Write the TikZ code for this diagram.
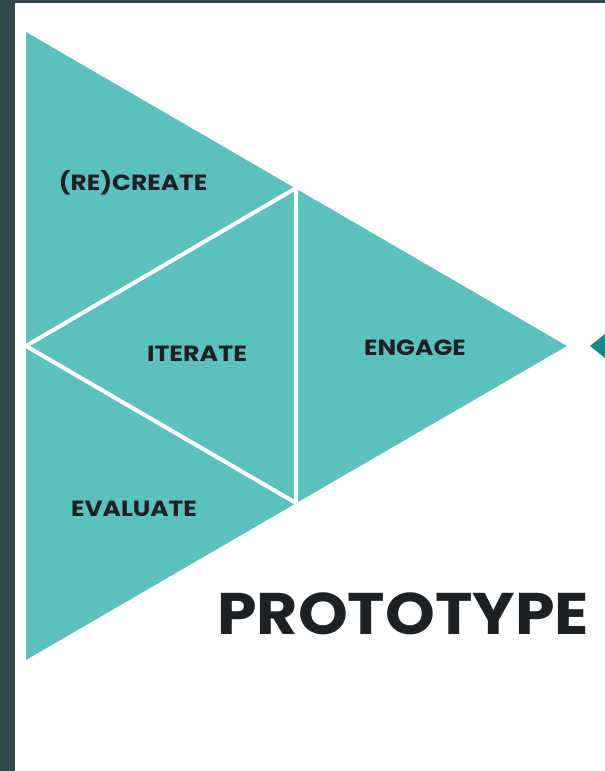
\documentclass[tikz,border=0pt]{standalone}
\usepackage{fontspec}
\setmainfont{Poppins}
\usepackage{tikz}

\definecolor{frame}{HTML}{34474F}
\definecolor{teal1}{HTML}{5CC1BD}
\definecolor{teal2}{HTML}{17888A}
\definecolor{ink}{HTML}{1E2124}

\newcommand{\wide}[2]{\scalebox{#1}[1]{#2}}

\tikzset{
    label/.style={text=ink, font=\fontsize{16.5}{16.5}\selectfont\bfseries, inner sep=0pt},
    cut/.style={draw=white, line width=3pt, line cap=round}
}

\begin{document}
\begin{tikzpicture}[x=0.75pt, y=-0.75pt]
            \useasboundingbox (0,0) rectangle (605,771);
            \fill[frame] (0,0) rectangle (605,771);
            \fill[white] (15,3) rectangle (605,771);

            % outer triangle and its corners
            \coordinate (TL) at (26,32);
            \coordinate (BL) at (26,660);
            \coordinate (R) at (567,346);
            \coordinate (ML) at (26,346);
            \coordinate (MT) at (296,188);
            \coordinate (MB) at (296,503);
            \fill[teal1] (TL) -- (R) -- (BL) -- cycle;

            \path[cut] (ML) edge (MT);
            \path[cut] (ML) edge (MB);
            \path[cut] (MT) edge (MB);

            % small arrow on the right
            \fill[teal2] (590,346) -- (605,334) -- (605,358) -- cycle;

            \node[label] (C) at (133,183) {\wide{1.13}{(RE)CREATE}};
            \node[label] (I) at (197,354) {\wide{1.15}{ITERATE}};
            \node[label] (G) at (415,348) {\wide{1.13}{ENGAGE}};
            \node[label] (V) at (134,509) {\wide{1.13}{EVALUATE}};

            \node[text=ink, font=\fontsize{44}{44}\selectfont\bfseries, inner sep=0pt] (P) at (403,614) {\wide{1.08}{PROTOTYPE}};
        \end{tikzpicture}
\end{document}
